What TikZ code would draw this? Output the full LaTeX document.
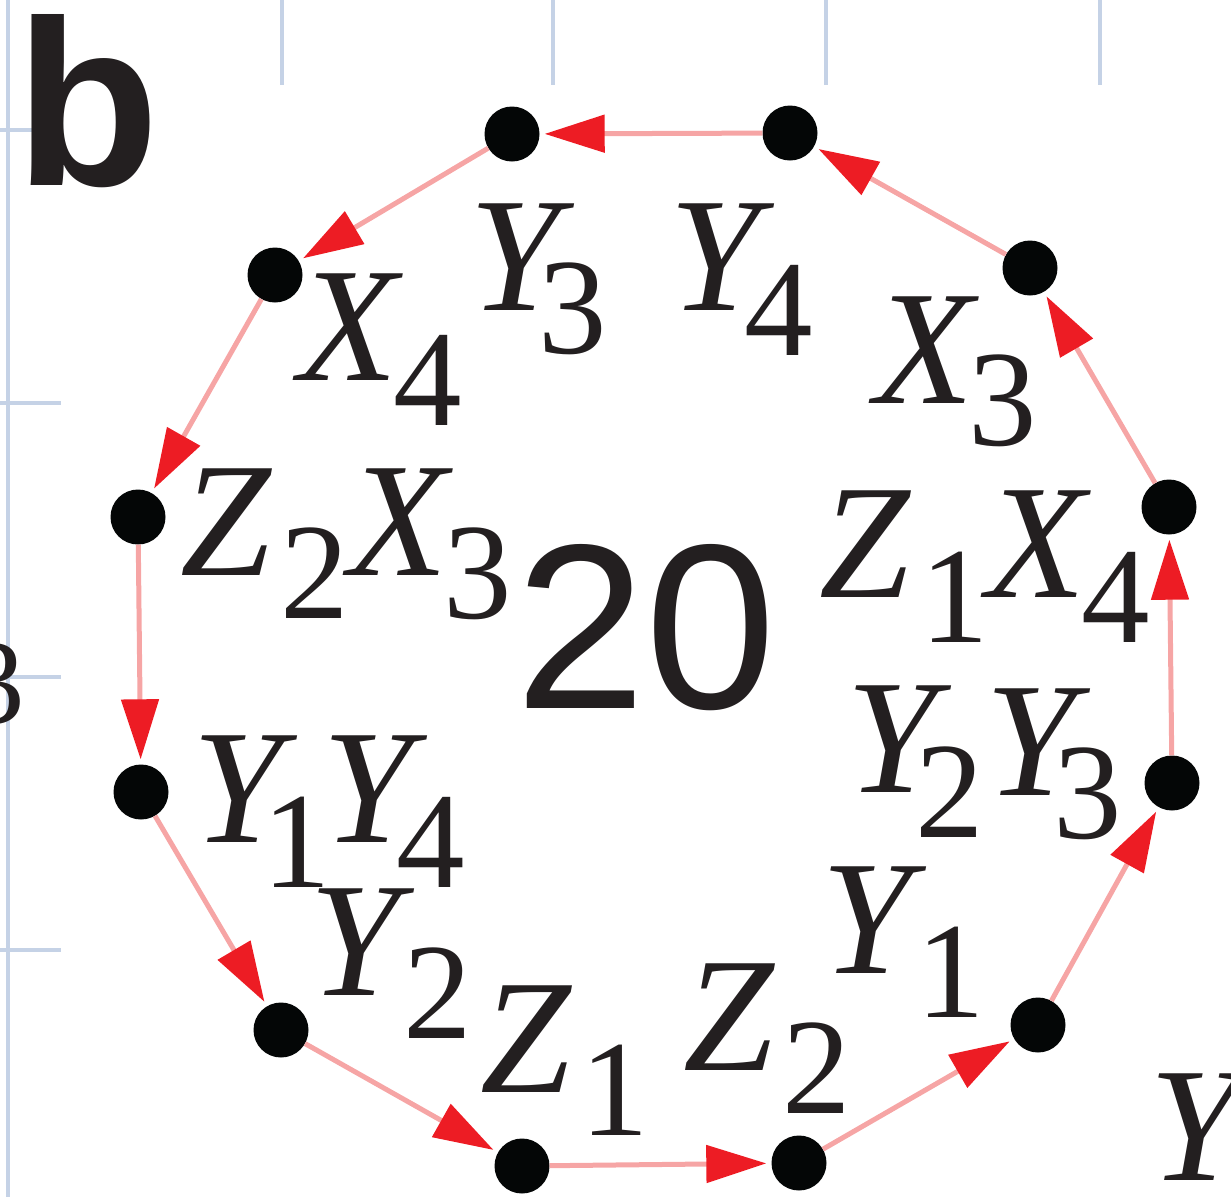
\documentclass[tikz,border=0pt]{standalone}
\usepackage{fontspec}
\setmainfont{Liberation Serif}
\newfontfamily\arl{Liberation Sans}
\usetikzlibrary{arrows.meta}
\definecolor{gridblue}{RGB}{197,210,230}
\definecolor{edgepink}{RGB}{246,165,165}
\definecolor{arrowred}{RGB}{237,28,36}
\definecolor{txt}{RGB}{35,31,32}
\definecolor{dotblack}{RGB}{4,6,6}
\begin{document}
\begin{tikzpicture}[x=1pt,y=-1pt,
  dot/.style={circle,fill=dotblack,inner sep=0pt,minimum size=55pt},
  edge/.style={draw=edgepink,line width=5pt,shorten >=5pt,
    -{Triangle[length=60pt,width=37pt,color=arrowred]}},
  gline/.style={draw=gridblue,line width=4pt},
  lbl/.style={font=\fontsize{163}{163}\selectfont\itshape,text=txt,inner sep=0pt,anchor=base},
  sublbl/.style={font=\fontsize{137}{137}\selectfont,text=txt,inner sep=0pt,anchor=base}]
\useasboundingbox (0,0) rectangle (1231,1197);
\clip (0,0) rectangle (1231,1197);
% background grid fragments
\draw[gline] (8,0) -- (8,1197);
\foreach \gx in {282,553,826,1100} \draw[gline] (\gx,0) -- (\gx,85);
\foreach \gy in {130,403,677,950} \draw[gline] (0,\gy) -- (61,\gy);
% panel letter
\node[font=\fontsize{236}{236}\selectfont\arl\bfseries,text=txt,inner sep=0pt,anchor=base] (panel) at (88,185) {b};
% partial neighbour texts
\node[font=\fontsize{121}{121}\selectfont,text=txt,inner sep=0pt,anchor=base east] (part3) at (25,723) {3};
\node[lbl] (partY) at (1195,1180) {Y};
% dots
\node[dot] (p1) at (512,134) {};
\node[dot] (p2) at (790,133) {};
\node[dot] (p3) at (1030,268) {};
\node[dot] (p4) at (1169,507) {};
\node[dot] (p5) at (1172,783) {};
\node[dot] (p6) at (1038,1025) {};
\node[dot] (p7) at (799,1163) {};
\node[dot] (p8) at (522,1166) {};
\node[dot] (p9) at (281,1030) {};
\node[dot] (p10) at (141,792) {};
\node[dot] (p11) at (138,517) {};
\node[dot] (p12) at (275,275) {};
% edges
\draw[edge] (p2) -- (p1);
\draw[edge] (p1) -- (p12);
\draw[edge] (p12) -- (p11);
\draw[edge] (p11) -- (p10);
\draw[edge] (p10) -- (p9);
\draw[edge] (p9) -- (p8);
\draw[edge] (p8) -- (p7);
\draw[edge] (p7) -- (p6);
\draw[edge] (p6) -- (p5);
\draw[edge] (p5) -- (p4);
\draw[edge] (p4) -- (p3);
\draw[edge] (p3) -- (p2);
% centre number
\node[font=\fontsize{235}{235}\selectfont\arl,text=txt,inner sep=0pt,anchor=base] (num) at (646,708) {20};
% labels
\node[lbl] (aY) at (515,310) {Y};   \node[sublbl] (a3) at (573,353) {3};
\node[lbl] (bY) at (715,310) {Y};   \node[sublbl] (b4) at (779,355) {4};
\node[lbl] (cX) at (348,380) {X};   \node[sublbl] (c4) at (428,425) {4};
\node[lbl] (dX) at (924,403) {X};   \node[sublbl] (d3) at (1003,445) {3};
\node[lbl] (eZ) at (226,575) {Z};   \node[sublbl] (e2) at (315,618) {2};
\node[lbl] (eX) at (398,575) {X};   \node[sublbl] (e3) at (478,618) {3};
\node[lbl] (fZ) at (865,597) {Z};   \node[sublbl] (f1) at (955,642) {1};
\node[lbl] (fX) at (1036,597) {X};  \node[sublbl] (f4) at (1116,642) {4};
\node[lbl] (gY) at (238,842) {Y};   \node[sublbl] (g1) at (297,887) {1};
\node[lbl] (gY2) at (368,842) {Y};  \node[sublbl] (g4) at (431,887) {4};
\node[lbl] (hY) at (355,995) {Y};   \node[sublbl] (h2) at (438,1038) {2};
\node[lbl] (iY) at (892,792) {Y};   \node[sublbl] (i2) at (950,837) {2};
\node[lbl] (iY2) at (1031,795) {Y}; \node[sublbl] (i3) at (1088,838) {3};
\node[lbl] (jY) at (867,973) {Y};   \node[sublbl] (j1) at (951,1017) {1};
\node[lbl] (kZ) at (526,1092) {Z};  \node[sublbl] (k1) at (615,1135) {1};
\node[lbl] (lZ) at (729,1070) {Z};  \node[sublbl] (l2) at (817,1113) {2};
\end{tikzpicture}
\end{document}
